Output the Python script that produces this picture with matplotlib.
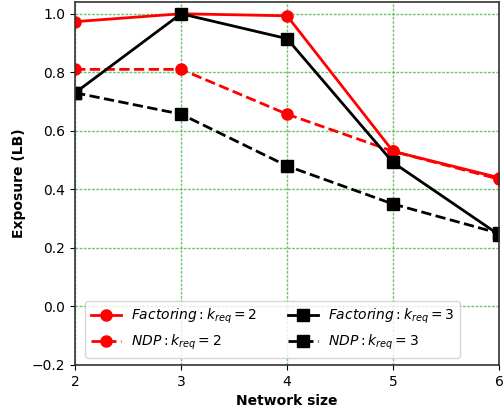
import matplotlib
matplotlib.use('Agg')
import matplotlib.pyplot as plt

sizes = [2, 3, 4, 5, 6]
factoring_k2 = [0.973, 1.0, 0.993, 0.53, 0.44]
ndp_k2 = [0.81, 0.81, 0.657, 0.53, 0.435]
factoring_k3 = [0.73, 1.0, 0.915, 0.492, 0.245]
ndp_k3 = [0.73, 0.657, 0.48, 0.35, 0.25]

fig = plt.figure(figsize=(5.04, 4.11), dpi=100)
ax = fig.add_axes([0.149, 0.112, 0.841, 0.883])

ax.plot(sizes, factoring_k2, 'r-o', lw=2, ms=8, label=r'$Factoring: k_{req}=2$')
ax.plot(sizes, ndp_k2, 'r--o', lw=2, ms=8, label=r'$NDP: k_{req}=2$')
ax.plot(sizes, factoring_k3, 'k-s', lw=2, ms=8, label=r'$Factoring: k_{req}=3$')
ax.plot(sizes, ndp_k3, 'k--s', lw=2, ms=8, label=r'$NDP: k_{req}=3$')

ax.set_xlim(2, 6)
ax.set_ylim(-0.2, 1.04)
ax.set_xticks(sizes)
ax.grid(True, color='#4cb84c', linestyle=(0, (2, 1)), linewidth=1.0, alpha=0.8)

for s in ax.spines.values():
    s.set_color('#333333')
    s.set_linewidth(1.2)

ax.set_xlabel('Network size', fontweight='bold', fontsize=10)
ax.set_ylabel('Exposure (LB)', fontweight='bold', fontsize=10)

ax.legend(ncol=2, loc='lower center', bbox_to_anchor=(0.466, 0.0), fontsize=10,
          handlelength=2.2, handletextpad=0.7, columnspacing=2.2)

fig.savefig('out.png', dpi=100)
